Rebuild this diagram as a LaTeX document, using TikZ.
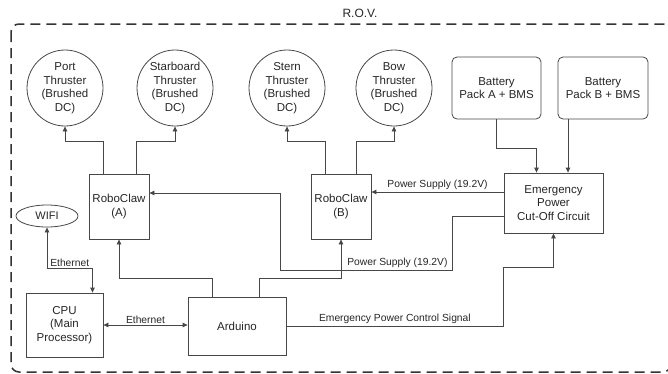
\documentclass[tikz,border=0pt]{standalone}
\usepackage{fontspec}
\setmainfont{Liberation Sans}
\usetikzlibrary{arrows.meta,shapes.geometric}
\begin{document}
\begin{tikzpicture}[x=1pt,y=-1pt,
  ln/.style={draw=black!72, line width=0.8pt},
  box/.style={ln, rectangle, align=center, text=black!85, font=\fontsize{11.5}{13.5}\selectfont, inner sep=0pt},
  thr/.style={ln, circle, minimum size=76pt, align=center, text=black!85, font=\fontsize{11.5}{13.5}\selectfont, inner sep=0pt},
  arr/.style={ln, -{Triangle[length=5pt,width=4.5pt]}},
  darr/.style={ln, {Triangle[length=5pt,width=4.5pt]}-{Triangle[length=5pt,width=4.5pt]}},
  lbl/.style={text=black!85, font=\fontsize{10.3}{12}\selectfont, inner sep=1.5pt}
]
\useasboundingbox (0,0) rectangle (668,373);
\draw[black!80, line width=1.5pt, dash pattern=on 10pt off 6pt, rounded corners=8pt] (11,24) rectangle (671,372);
\node[text=black!85, font=\fontsize{12}{14}\selectfont] (title) at (360,13) {R.O.V.};

\node[thr] (port) at (65,88) {Port\\Thruster\\(Brushed\\DC)};
\node[thr] (star) at (175,88) {Starboard\\Thruster\\(Brushed\\DC)};
\node[thr] (stern) at (287,88) {Stern\\Thruster\\(Brushed\\DC)};
\node[thr] (bow) at (394,88) {Bow\\Thruster\\(Brushed\\DC)};

\node[box, rounded corners=5pt, minimum width=89pt, minimum height=62pt] (batA) at (496.5,88) {Battery\\Pack A + BMS};
\node[box, rounded corners=5pt, minimum width=90pt, minimum height=62pt] (batB) at (603,88) {Battery\\Pack B + BMS};

\node[box, minimum width=60pt, minimum height=65pt] (ra) at (119,206.5) {RoboClaw\\(A)};
\node[box, minimum width=60pt, minimum height=65pt] (rb) at (341,206.5) {RoboClaw\\(B)};
\node[box, minimum width=99pt, minimum height=60pt] (em) at (553.5,203) {Emergency\\Power\\Cut-Off Circuit};

\node[ln, ellipse, minimum width=62pt, minimum height=22pt, inner sep=0pt, text=black!85, font=\fontsize{11}{13}\selectfont] (wifi) at (47,216) {WIFI};
\node[box, minimum width=77pt, minimum height=64pt] (cpu) at (64.5,325) {CPU\\(Main\\Processor)};
\node[box, minimum width=98pt, minimum height=58pt] (ard) at (237,326) {Arduino};

% thrusters
\draw[arr] ([xshift=-16pt]ra.north) -- ++(0,-32) -| (port.south);
\draw[arr] ([xshift=17pt]ra.north) -- ++(0,-32) -| (star.south);
\draw[arr] ([xshift=-16pt]rb.north) -- ++(0,-32) -| (stern.south);
\draw[arr] ([xshift=15pt]rb.north) -- ++(0,-32) -| (bow.south);

% batteries
\draw[arr] (batA.south) -- ++(0,29) -| ([xshift=-17pt]em.north);
\draw[arr] ([xshift=-35pt]batB.south) coordinate (bb) -- (bb |- em.north);

% power supplies
\draw[arr] ([yshift=11pt]em.west) coordinate (p1) -- (p1 -| rb.east) node[lbl, midway, above] {Power Supply (19.2V)};
\draw[arr] ([yshift=-13pt]em.west) -- ++(-51,0) -- ++(0,54) -- (280,270) node[lbl, pos=0.32, above] {Power Supply (19.2V)} |- ([yshift=13.5pt]ra.east);

% arduino
\draw[arr] ([xshift=-25pt]ard.north) -- ++(0,-18) -| (ra.south);
\draw[arr] ([xshift=22pt]ard.north) -- ++(0,-18) -| (rb.south);
\draw[arr] (ard.east) -- ++(217,0) node[lbl, midway, above] {Emergency Power Control Signal} -- ++(0,-59) -| (em.south);

% ethernet
\draw[darr] (cpu.east) -- (cpu.east -| ard.west) node[lbl, midway, above] {Ethernet};
\draw[darr] (wifi.south) -- ++(0,41) -| ([xshift=28pt]cpu.north) node[lbl, pos=0.25, above] {Ethernet};
\end{tikzpicture}
\end{document}
